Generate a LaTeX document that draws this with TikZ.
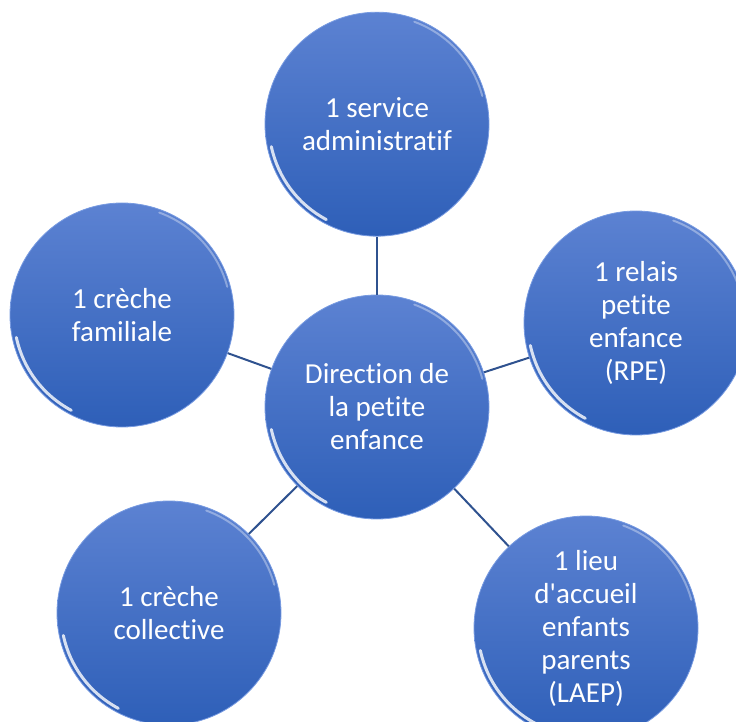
\documentclass[tikz,border=0pt]{standalone}
\usepackage{fontspec}
\setmainfont{Carlito}[Ligatures={NoCommon}]
\usetikzlibrary{positioning}
\definecolor{discTop}{RGB}{92,130,210}
\definecolor{discBottom}{RGB}{46,95,184}
\definecolor{discRim}{RGB}{120,155,225}
\definecolor{linkBlue}{RGB}{47,82,143}

\begin{document}
\begin{tikzpicture}[x=1pt,y=-1pt,
unit/.style={circle, minimum size=224pt, inner sep=0pt, align=center, text=white, font=\fontsize{29}{33}\selectfont, top color=discTop, bottom color=discBottom, draw=discRim, line width=0.8pt},
link/.style={draw=linkBlue, line width=2pt},
]
\useasboundingbox (0,0) rectangle (736,722);
\clip (0,0) rectangle (736,722);
%Nodes
\node[unit] (direction) at (377,407) {Direction de\\la petite\\enfance};
\node[unit] (admin)     [above=58pt of direction] {1 service\\administratif};
\node[unit] (familiale) at (122,315) {1 crèche\\familiale};
\node[unit] (relais)    at (636,323) {1 relais\\petite\\enfance\\(RPE)};
\node[unit] (collective) at (169,613) {1 crèche\\collective};
\node[unit] (laep)      at (586,628) {1 lieu\\d\textquotesingle accueil\\enfants\\parents\\(LAEP)};

%Lines
\draw[link] (direction) -- (admin);
\draw[link] (direction) -- (familiale);
\draw[link] (direction) -- (relais);
\draw[link] (direction) -- (collective);
\draw[link] (direction) -- (laep);

%Highlights
\foreach \n in {direction,admin,familiale,relais,collective,laep}{
  \draw[white, opacity=0.8, line width=3pt, line cap=round] (\n.center) ++(118:108) arc (118:168:108);
  \draw[white, opacity=0.35, line width=2pt, line cap=round] (\n.center) ++(290:109) arc (290:345:109);
}
\end{tikzpicture}
\end{document}
